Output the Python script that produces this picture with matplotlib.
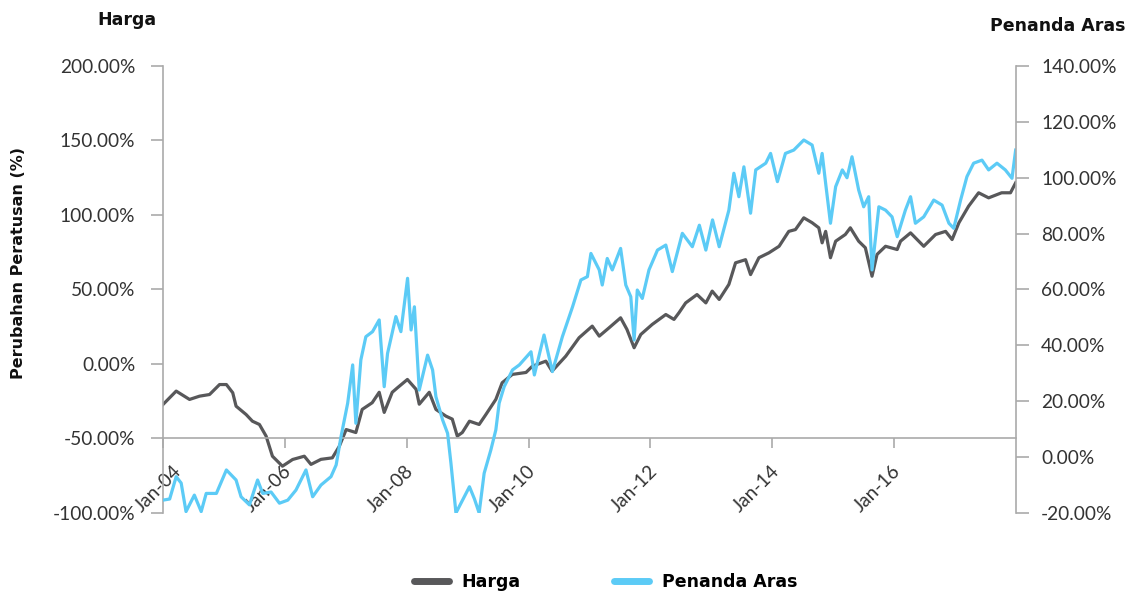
import matplotlib
matplotlib.use("Agg")
import matplotlib.pyplot as plt
from matplotlib.ticker import FuncFormatter, MultipleLocator
from matplotlib.transforms import ScaledTranslation
import pandas as pd

# ------------------------------------------------------------------
# Datos (perubahan peratusan, %)
# ------------------------------------------------------------------
FECHAS_HARGA = [
    "2004-01-01", "2004-03-20", "2004-06-08", "2004-08-07", "2004-10-06", "2004-12-05",
    "2005-01-15", "2005-02-22", "2005-03-14", "2005-05-13", "2005-06-20", "2005-08-01",
    "2005-09-10", "2005-10-18", "2005-12-17", "2006-02-16", "2006-04-27", "2006-06-06",
    "2006-08-05", "2006-10-12", "2006-11-23", "2007-01-03", "2007-03-02", "2007-04-09",
    "2007-06-08", "2007-07-20", "2007-08-19", "2007-10-06", "2007-11-06", "2008-01-05",
    "2008-02-26", "2008-03-16", "2008-05-15", "2008-06-24", "2008-08-23", "2008-09-30",
    "2008-10-30", "2008-11-29", "2009-01-11", "2009-03-10", "2009-04-19", "2009-06-18",
    "2009-07-26", "2009-09-25", "2009-12-16", "2010-01-23", "2010-04-14", "2010-05-21",
    "2010-08-11", "2010-10-30", "2011-01-17", "2011-02-28", "2011-04-28", "2011-07-06",
    "2011-08-13", "2011-09-25", "2011-11-04", "2012-01-11", "2012-04-02", "2012-05-21",
    "2012-06-20", "2012-07-30", "2012-10-06", "2012-11-28", "2013-01-05", "2013-02-16",
    "2013-04-15", "2013-05-25", "2013-07-24", "2013-08-23", "2013-10-12", "2013-12-11",
    "2014-02-10", "2014-04-09", "2014-05-19", "2014-07-08", "2014-08-27", "2014-10-06",
    "2014-10-26", "2014-11-16", "2014-12-15", "2015-01-15", "2015-03-14", "2015-04-13",
    "2015-06-02", "2015-07-12", "2015-08-21", "2015-09-20", "2015-11-10", "2016-01-19",
    "2016-02-08", "2016-04-08", "2016-06-26", "2016-09-05", "2016-11-04", "2016-12-13",
    "2017-01-23", "2017-03-22", "2017-05-21", "2017-07-20", "2017-10-06", "2017-11-28",
    "2017-12-29",
]
HARGA = [
    -27.2, -18.2, -23.8, -21.6, -20.5, -13.8,
    -13.8, -19.3, -28.3, -33.9, -38.4, -40.6,
    -48.4, -61.9, -68.6, -64.1, -61.9, -67.4,
    -64.0, -63.0, -55.2, -44.0, -46.0, -30.5,
    -26.0, -19.0, -32.5, -19.0, -16.0, -10.4,
    -17.0, -27.0, -19.0, -30.5, -35.0, -37.0,
    -48.4, -46.0, -38.4, -40.6, -34.0, -23.8,
    -12.6, -7.0, -5.7, -1.5, 1.9, -4.8,
    5.2, 17.6, 25.4, 18.7, 24.3, 31.0,
    23.2, 10.9, 19.8, 26.5, 33.2, 29.9,
    34.4, 41.0, 46.6, 41.0, 48.9, 43.3,
    53.4, 67.9, 70.0, 60.0, 71.3, 74.6,
    79.0, 89.0, 90.2, 98.1, 94.8, 91.4,
    81.3, 89.0, 71.3, 82.4, 86.9, 91.4,
    82.4, 78.0, 58.9, 73.5, 79.0, 76.8,
    82.4, 88.0, 79.0, 86.9, 89.0, 83.5,
    94.8, 105.9, 114.9, 111.5, 114.9, 114.9,
    121.6,
]

FECHAS_PENANDA = [
    "2004-01-01", "2004-02-10", "2004-03-20", "2004-04-19", "2004-05-18", "2004-07-07",
    "2004-08-17", "2004-09-16", "2004-11-16", "2005-01-15", "2005-03-14", "2005-04-13",
    "2005-06-02", "2005-07-21", "2005-08-21", "2005-10-10", "2005-11-29", "2006-01-18",
    "2006-03-08", "2006-05-07", "2006-06-16", "2006-08-05", "2006-10-04", "2006-11-04",
    "2006-12-03", "2007-01-12", "2007-02-11", "2007-03-02", "2007-04-01", "2007-05-01",
    "2007-06-10", "2007-07-20", "2007-08-19", "2007-09-08", "2007-10-28", "2007-11-27",
    "2008-01-06", "2008-01-27", "2008-02-16", "2008-03-16", "2008-05-05", "2008-06-04",
    "2008-06-24", "2008-08-03", "2008-09-02", "2008-09-22", "2008-10-22", "2008-12-01",
    "2009-01-11", "2009-02-10", "2009-03-10", "2009-04-09", "2009-05-19", "2009-06-18",
    "2009-07-08", "2009-08-07", "2009-09-26", "2009-11-06", "2010-01-15", "2010-02-04",
    "2010-04-03", "2010-05-23", "2010-07-22", "2010-09-21", "2010-11-10", "2010-12-19",
    "2011-01-09", "2011-02-28", "2011-03-18", "2011-04-17", "2011-05-17", "2011-07-06",
    "2011-08-06", "2011-09-05", "2011-09-25", "2011-10-14", "2011-11-13", "2011-12-23",
    "2012-02-12", "2012-04-02", "2012-05-11", "2012-07-10", "2012-09-08", "2012-10-20",
    "2012-11-28", "2013-01-07", "2013-02-16", "2013-04-15", "2013-05-15", "2013-06-14",
    "2013-07-14", "2013-08-23", "2013-09-23", "2013-11-22", "2013-12-21", "2014-01-31",
    "2014-03-20", "2014-05-09", "2014-07-08", "2014-08-27", "2014-10-06", "2014-10-26",
    "2014-11-16", "2014-12-15", "2015-01-15", "2015-02-24", "2015-03-24", "2015-04-23",
    "2015-06-02", "2015-07-02", "2015-08-01", "2015-08-21", "2015-10-01", "2015-11-10",
    "2015-12-19", "2016-01-19", "2016-03-08", "2016-04-08", "2016-05-07", "2016-06-26",
    "2016-08-25", "2016-10-14", "2016-11-24", "2016-12-23", "2017-02-02", "2017-03-12",
    "2017-04-21", "2017-06-10", "2017-07-20", "2017-09-08", "2017-10-28", "2017-12-07",
    "2017-12-29",
]
PENANDA_ARAS = [
    -15.4, -15.0, -7.0, -9.3, -19.5, -13.6,
    -19.5, -13.0, -13.0, -4.6, -8.2, -14.2,
    -17.1, -8.2, -13.0, -12.5, -16.5, -15.4,
    -11.8, -4.6, -14.2, -10.0, -7.0, -2.8,
    7.3, 19.3, 33.0, 12.1, 34.8, 43.1,
    44.9, 49.1, 25.2, 37.1, 50.3, 44.9,
    64.0, 45.5, 53.8, 24.0, 36.5, 31.2,
    21.6, 13.3, 8.5, -2.2, -20.0, -15.4,
    -10.6, -15.0, -20.0, -5.8, 2.5, 9.7,
    19.3, 25.2, 31.2, 33.0, 37.7, 29.4,
    43.7, 30.6, 43.1, 53.8, 63.4, 64.6,
    72.9, 67.0, 61.6, 71.1, 67.0, 74.7,
    61.6, 57.4, 41.9, 59.8, 56.8, 67.0,
    74.1, 75.9, 66.4, 80.1, 75.3, 83.0,
    74.1, 84.9, 75.3, 88.4, 101.6, 93.2,
    103.9, 87.3, 102.8, 105.2, 108.7, 98.6,
    108.7, 109.9, 113.5, 111.7, 101.6, 108.7,
    98.0, 83.7, 96.8, 102.8, 100.0, 107.5,
    95.6, 89.6, 93.2, 67.0, 89.6, 88.4,
    86.0, 78.9, 88.4, 93.2, 83.7, 86.0,
    92.0, 90.2, 83.7, 81.9, 92.0, 100.4,
    105.2, 106.3, 102.8, 105.2, 102.8, 99.8,
    109.9,
]

ETIQUETAS_X = ["Jan-04", "Jan-06", "Jan-08", "Jan-10", "Jan-12", "Jan-14", "Jan-16"]
FECHAS_TICKS_X = ["2004-01-01", "2006-01-01", "2008-01-01", "2010-01-01",
                  "2012-01-01", "2014-01-01", "2016-01-01"]

COLOR_HARGA = "#58585a"
COLOR_PENANDA = "#5ccbf6"
COLOR_EJE = "#aaaaaa"
COLOR_TEXTO = "#333333"
FUENTE_NEGRITA = ["DejaVu Sans"]

plt.rcParams["font.family"] = ["Lato", "DejaVu Sans"]

fig = plt.figure(figsize=(11.28, 5.96), dpi=100)
ax = fig.add_axes([0.1445, 0.1393, 0.7562, 0.75])
ax2 = ax.twinx()

ax.plot(pd.to_datetime(FECHAS_HARGA), HARGA, color=COLOR_HARGA, lw=2.3,
        solid_joinstyle="round", label="Harga")
ax2.plot(pd.to_datetime(FECHAS_PENANDA), PENANDA_ARAS, color=COLOR_PENANDA, lw=2.3,
         solid_joinstyle="round", label="Penanda Aras")

ax.set_xlim(pd.Timestamp("2004-01-01"), pd.Timestamp("2017-12-31"))
ax.set_ylim(-100, 200)
ax2.set_ylim(-20, 140)

fmt = FuncFormatter(lambda v, p: f"{v:.2f}%")
ax.yaxis.set_major_locator(MultipleLocator(50))
ax.yaxis.set_major_formatter(fmt)
ax2.yaxis.set_major_locator(MultipleLocator(20))
ax2.yaxis.set_major_formatter(fmt)

# --- ejes y spines ---
for a in (ax, ax2):
    a.spines["top"].set_visible(False)
    for s in a.spines.values():
        s.set_color(COLOR_EJE)
        s.set_linewidth(1.2)
ax.spines["right"].set_visible(False)
ax2.spines["left"].set_visible(False)
ax2.spines["bottom"].set_visible(False)
ax.spines["bottom"].set_position(("data", -50))

ax.tick_params(axis="y", length=9, width=1.2, color=COLOR_EJE, pad=11,
               labelsize=13.8, labelcolor=COLOR_TEXTO)
ax2.tick_params(axis="y", length=9, width=1.2, color=COLOR_EJE, pad=9,
                labelsize=13.8, labelcolor=COLOR_TEXTO)

ax.set_xticks(pd.to_datetime(FECHAS_TICKS_X))
ax.set_xticklabels(ETIQUETAS_X, rotation=45, ha="right")
ax.tick_params(axis="x", length=7, width=1.2, color=COLOR_EJE, pad=10,
               labelsize=13.8, labelcolor=COLOR_TEXTO)
for i, lbl in enumerate(ax.get_xticklabels()):
    dx = 0.22 if i == 0 else 0.10
    lbl.set_transform(lbl.get_transform() + ScaledTranslation(dx, 0, fig.dpi_scale_trans))

# --- textos ---
fig.text(97 / 1128, 1 - 20 / 596, "Harga", fontsize=12.5, fontweight="bold",
         family=FUENTE_NEGRITA, ha="left", va="center", color="#111111")
fig.text(1125 / 1128, 1 - 26 / 596, "Penanda Aras", fontsize=12.5, fontweight="bold",
         family=FUENTE_NEGRITA, ha="right", va="center", color="#111111")
fig.text(19 / 1128, 1 - 263 / 596, "Perubahan Peratusan (%)", fontsize=11.5,
         fontweight="bold", family=FUENTE_NEGRITA, rotation=90,
         ha="center", va="center", color="#111111")

# --- leyenda ---
h1, l1 = ax.get_legend_handles_labels()
h2, l2 = ax2.get_legend_handles_labels()
leg = fig.legend(h1 + h2, l1 + l2, loc="center", bbox_to_anchor=(0.537, 1 - 582 / 596),
                 ncol=2, frameon=False, handlelength=2.0, handletextpad=0.75,
                 columnspacing=5.4,
                 prop={"weight": "bold", "size": 12.5, "family": FUENTE_NEGRITA})
for line in leg.get_lines():
    line.set_linewidth(5)
    line.set_solid_capstyle("round")

fig.savefig("out.png", dpi=100)
